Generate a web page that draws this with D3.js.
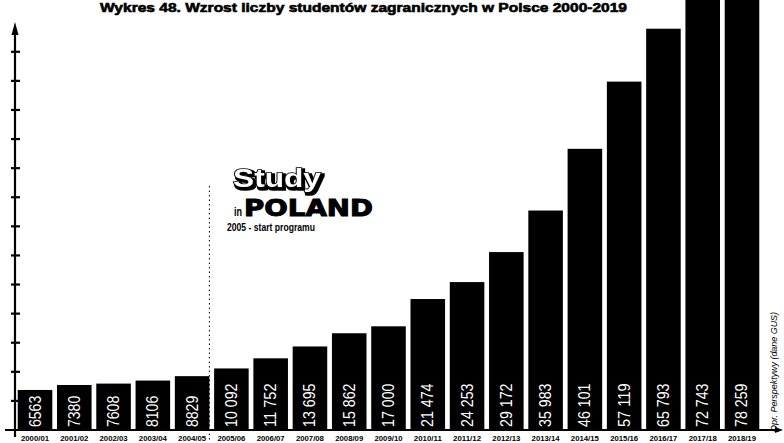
<!DOCTYPE html>
<html>
<head>
<meta charset="utf-8">
<script src="https://cdn.jsdelivr.net/npm/d3@7"></script>
<style>
  html, body { margin: 0; padding: 0; background: #fff; }
  svg { display: block; }
</style>
</head>
<body>
<svg id="chart" width="784" height="443"></svg>
<script>
// ---- data ----
const categories = ["2000/01","2001/02","2002/03","2003/04","2004/05","2005/06","2006/07","2007/08","2008/09","2009/10","2010/11","2011/12","2012/13","2013/14","2014/15","2015/16","2016/17","2017/18","2018/19"];
const students = [6563, 7380, 7608, 8106, 8829, 10092, 11752, 13695, 15862, 17000, 21474, 24253, 29172, 35983, 46101, 57119, 65793, 72743, 78259];
const yTickValues = [4770, 9540, 14310, 19080, 23850, 28620, 33390, 38160, 42930, 47700, 52470, 57240, 62010];
const titleText = "Wykres 48. Wzrost liczby studentów zagranicznych w Polsce 2000-2019";
const sourceText = "Opr. Perspektywy (dane GUS)";
const startCategory = "2005/06";
const logoLines = ["Study", "in", "POLAND", "2005 - start programu"];

// ---- setup ----
const svg = d3.select("#chart");
const baseY = 430, axisX = 15;

const x = d3.scaleBand().domain(categories).range([13.8, 763.2]).paddingInner(0.12).paddingOuter(0.1);
const y = d3.scaleLinear().domain([0, 70500]).range([baseY, 0]);

const fmt = v => v >= 10000 ? d3.format(",")(v).replace(/,/g, " ") : String(v);
const labelLen = s => s.replace(/ /g, "").length * 7.8 + (s.split(" ").length - 1) * 4.5;

const defs = svg.append("defs");
const shadow = defs.append("filter").attr("id", "shadow").attr("x", "-10%").attr("y", "-20%").attr("width", "130%").attr("height", "150%");
shadow.append("feMorphology").attr("in", "SourceAlpha").attr("operator", "dilate").attr("radius", 1.2).attr("result", "thick");
shadow.append("feOffset").attr("in", "thick").attr("dx", 2).attr("dy", 2).attr("result", "off");
const merge = shadow.append("feMerge");
merge.append("feMergeNode").attr("in", "off");
merge.append("feMergeNode").attr("in", "SourceGraphic");

// title
svg.append("text")
  .attr("x", 100).attr("y", 12)
  .attr("textLength", 527).attr("lengthAdjust", "spacingAndGlyphs")
  .style("font-family", "'Liberation Sans', Arial, sans-serif")
  .style("font-weight", "bold").style("font-size", "12.5px")
  .attr("fill", "#000").attr("stroke", "#000").attr("stroke-width", 0.6)
  .text(titleText);

// bars
svg.append("g").selectAll("rect").data(students).join("rect")
  .attr("x", (d, i) => x(categories[i]))
  .attr("width", x.bandwidth())
  .attr("y", d => y(d))
  .attr("height", d => baseY - y(d))
  .attr("fill", "#000");

// value labels (vertical, white, reading bottom to top)
svg.append("g").selectAll("text").data(students).join("text")
  .attr("transform", (d, i) => "translate(" + (x(categories[i]) + x.bandwidth() / 2 + 5.5) + ",427) rotate(-90)")
  .attr("textLength", d => labelLen(fmt(d)))
  .attr("lengthAdjust", "spacingAndGlyphs")
  .style("font-family", "'Liberation Sans', Arial, sans-serif")
  .style("font-size", "16px")
  .attr("fill", "#fff")
  .text(d => fmt(d));

// category labels
svg.append("g").selectAll("text").data(categories).join("text")
  .attr("x", d => x(d) + x.bandwidth() / 2)
  .attr("y", 441)
  .attr("text-anchor", "middle")
  .attr("textLength", 28).attr("lengthAdjust", "spacingAndGlyphs")
  .style("font-family", "'Liberation Sans', Arial, sans-serif")
  .style("font-weight", "bold").style("font-size", "7px")
  .attr("fill", "#000")
  .text(d => d);

// x axis line + arrow
svg.append("line").attr("x1", 5).attr("x2", 778).attr("y1", baseY).attr("y2", baseY)
  .attr("stroke", "#000").attr("stroke-width", 2);
svg.append("path").attr("d", `M783,${baseY} L775,${baseY - 3} L775,${baseY + 3} Z`).attr("fill", "#000");

// y axis line + arrow + ticks
svg.append("line").attr("x1", axisX).attr("x2", axisX).attr("y1", 437).attr("y2", 30)
  .attr("stroke", "#000").attr("stroke-width", 2.2);
svg.append("path").attr("d", `M${axisX},22 L${axisX - 3.5},35 L${axisX + 3.5},35 Z`).attr("fill", "#000");
svg.append("g").selectAll("line").data(yTickValues).join("line")
  .attr("x1", axisX - 4).attr("x2", axisX + 5)
  .attr("y1", d => y(d)).attr("y2", d => y(d))
  .attr("stroke", "#000").attr("stroke-width", 2.2);

// dashed start-of-programme line
const startX = x(startCategory) - x.step() * x.paddingInner();
svg.append("line").attr("x1", startX).attr("x2", startX).attr("y1", 186).attr("y2", 442)
  .attr("stroke", "#000").attr("stroke-width", 1).attr("stroke-dasharray", "1.5,3");

// logo
const logo = svg.append("g");
logo.append("text").attr("x", 233).attr("y", 187)
  .attr("textLength", 88).attr("lengthAdjust", "spacingAndGlyphs")
  .style("font-family", "'Liberation Sans', sans-serif").style("font-weight", "bold").style("font-size", "25px")
  .attr("fill", "#fff").attr("stroke", "#000").attr("stroke-width", 1.6).style("paint-order", "stroke")
  .attr("filter", "url(#shadow)")
  .text(logoLines[0]);
logo.append("text").attr("x", 234).attr("y", 216)
  .attr("textLength", 8).attr("lengthAdjust", "spacingAndGlyphs")
  .style("font-family", "'Liberation Sans', sans-serif").style("font-weight", "bold").style("font-size", "12px")
  .attr("fill", "#000").text(logoLines[1]);
logo.append("text").attr("x", 244).attr("y", 216)
  .attr("textLength", 129).attr("lengthAdjust", "spacingAndGlyphs")
  .style("font-family", "'DejaVu Sans', sans-serif").style("font-weight", "bold").style("font-size", "23px")
  .attr("fill", "#000").attr("stroke", "#000").attr("stroke-width", 1).text(logoLines[2]);
logo.append("text").attr("x", 227).attr("y", 231)
  .attr("textLength", 88).attr("lengthAdjust", "spacingAndGlyphs")
  .style("font-family", "'Liberation Sans', sans-serif").style("font-weight", "bold").style("font-size", "10px")
  .attr("fill", "#000").text(logoLines[3]);

// source note
svg.append("text")
  .attr("transform", "translate(777,432) rotate(-90)")
  .attr("textLength", 120).attr("lengthAdjust", "spacingAndGlyphs")
  .style("font-family", "'Liberation Sans', sans-serif").style("font-style", "italic").style("font-size", "9px")
  .attr("fill", "#000").text(sourceText);
</script>
</body>
</html>
